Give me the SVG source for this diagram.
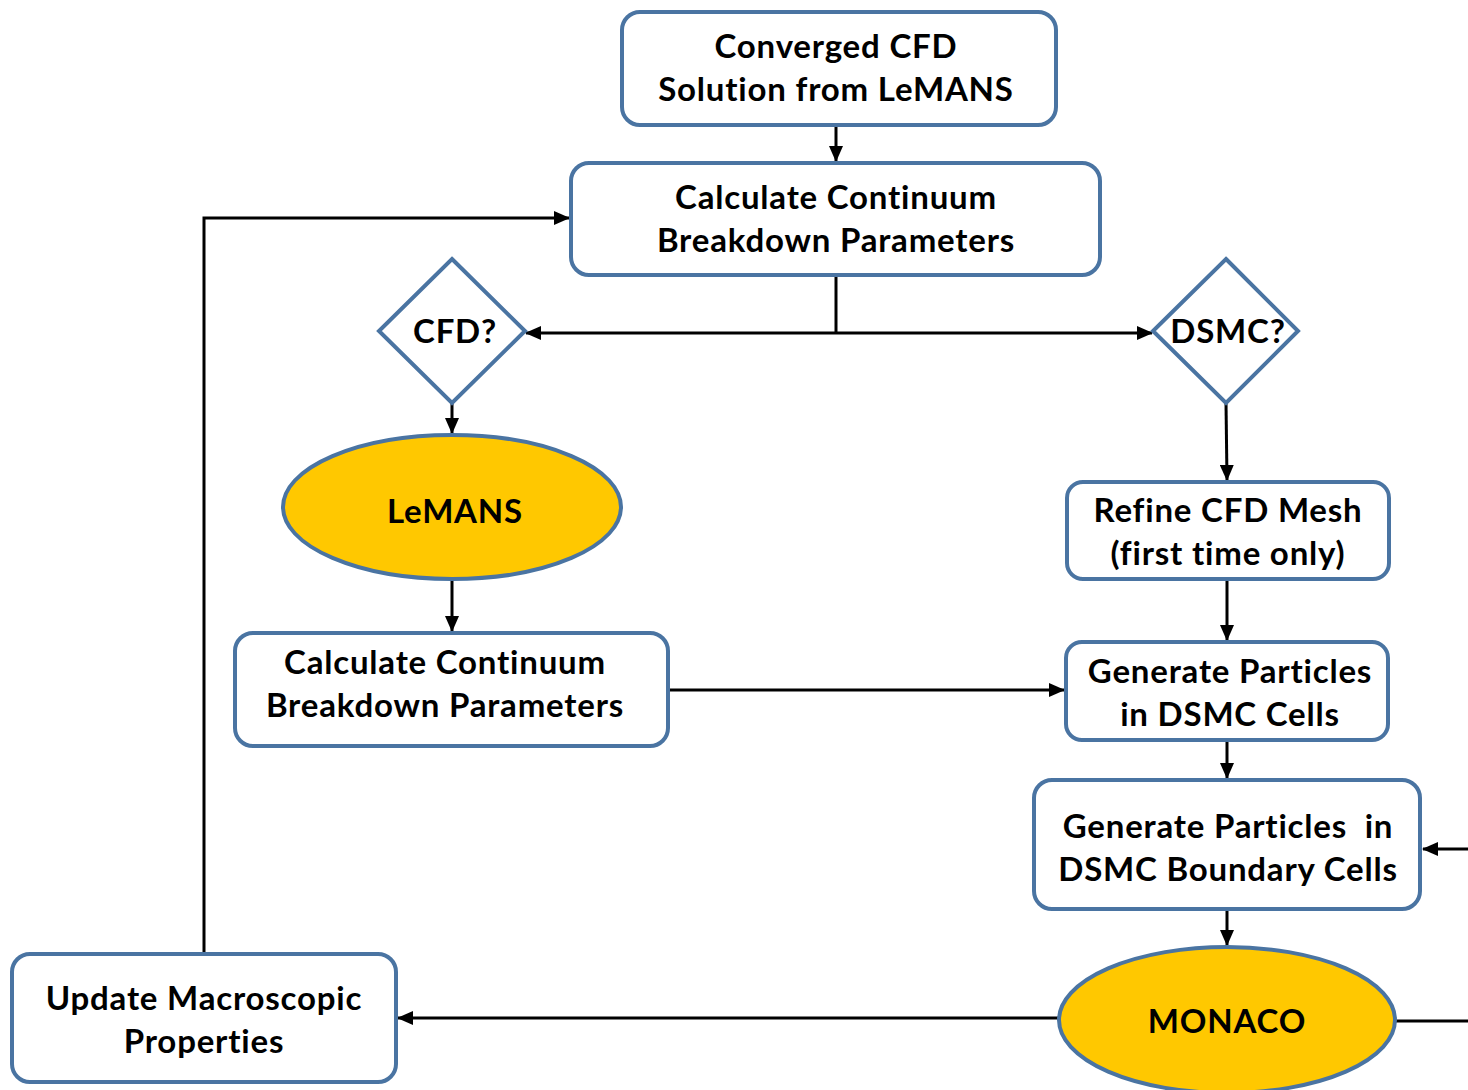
<svg xmlns="http://www.w3.org/2000/svg" width="1468" height="1090" viewBox="0 0 1468 1090">
<defs>
<marker id="ah" markerWidth="16" markerHeight="14" refX="15" refY="7" orient="auto" markerUnits="userSpaceOnUse">
<path d="M0,0 L16,7 L0,14 Z" fill="#000"/>
</marker>
<style>
.box{fill:#fff;stroke:#4A74A2;stroke-width:4}
.oval{fill:#FFC800;stroke:#4A74A2;stroke-width:4}
.t{font-family:Lato,"Open Sans","Liberation Sans",sans-serif;font-weight:bold;font-size:33px;letter-spacing:0.8px;fill:#000;text-anchor:middle}
.c{fill:none;stroke:#000;stroke-width:3}
.a{fill:none;stroke:#000;stroke-width:3;marker-end:url(#ah)}
</style>
</defs>
<rect width="1468" height="1090" fill="#fff"/>
<g id="connectors">
<line class="a" x1="836" y1="125" x2="836" y2="161"/>
<polyline class="c" points="836,276 836,333"/>
<line class="a" x1="836" y1="333" x2="526" y2="333"/>
<line class="a" x1="836" y1="333" x2="1152" y2="333"/>
<line class="a" x1="452" y1="403" x2="452" y2="433"/>
<line class="a" x1="452" y1="580" x2="452" y2="631"/>
<line class="a" x1="668" y1="690" x2="1064" y2="690"/>
<line class="a" x1="1226" y1="403" x2="1227" y2="480"/>
<line class="a" x1="1227" y1="580" x2="1227" y2="640"/>
<line class="a" x1="1227" y1="741" x2="1227" y2="778"/>
<line class="a" x1="1468" y1="849" x2="1423" y2="849"/>
<line class="a" x1="1227" y1="910" x2="1227" y2="945"/>
<line class="c" x1="1395" y1="1021" x2="1468" y2="1021"/>
<line class="a" x1="1059" y1="1018" x2="398" y2="1018"/>
<polyline class="a" points="204,954 204,218 569,218"/>
</g>
<g id="n1">
<rect class="box" x="622" y="12" width="434" height="113" rx="18"/>
<text class="t" x="836" y="58">Converged CFD</text>
<text class="t" x="836" y="101">Solution from LeMANS</text>
</g>
<g id="n2">
<rect class="box" x="571" y="163" width="529" height="112" rx="18"/>
<text class="t" x="836" y="209">Calculate Continuum</text>
<text class="t" x="836" y="252">Breakdown Parameters</text>
</g>
<g id="n3">
<polygon class="box" points="452,259 525,331 452,403 379,331"/>
<text class="t" x="455" y="343">CFD?</text>
</g>
<g id="n4">
<polygon class="box" points="1226,259 1298,331 1226,403 1153,331"/>
<text class="t" x="1228" y="343">DSMC?</text>
</g>
<g id="n5">
<ellipse class="oval" cx="452" cy="507" rx="169" ry="72"/>
<text class="t" x="455" y="523">LeMANS</text>
</g>
<g id="n6">
<rect class="box" x="235" y="633" width="433" height="113" rx="18"/>
<text class="t" x="445" y="674">Calculate Continuum</text>
<text class="t" x="445" y="717">Breakdown Parameters</text>
</g>
<g id="n7">
<rect class="box" x="1067" y="482" width="322" height="97" rx="16"/>
<text class="t" x="1228" y="522">Refine CFD Mesh</text>
<text class="t" x="1228" y="565">(first time only)</text>
</g>
<g id="n8">
<rect class="box" x="1066" y="642" width="322" height="98" rx="16"/>
<text class="t" x="1230" y="683">Generate Particles</text>
<text class="t" x="1230" y="726">in DSMC Cells</text>
</g>
<g id="n9">
<rect class="box" x="1034" y="780" width="386" height="129" rx="18"/>
<text class="t" x="1228" y="838" xml:space="preserve">Generate Particles  in</text>
<text class="t" x="1228" y="881">DSMC Boundary Cells</text>
</g>
<g id="n10">
<ellipse class="oval" cx="1227" cy="1020" rx="168" ry="73"/>
<text class="t" x="1227" y="1033">MONACO</text>
</g>
<g id="n11">
<rect class="box" x="12" y="954" width="384" height="128" rx="18"/>
<text class="t" x="204" y="1010">Update Macroscopic</text>
<text class="t" x="204" y="1053">Properties</text>
</g>
</svg>
